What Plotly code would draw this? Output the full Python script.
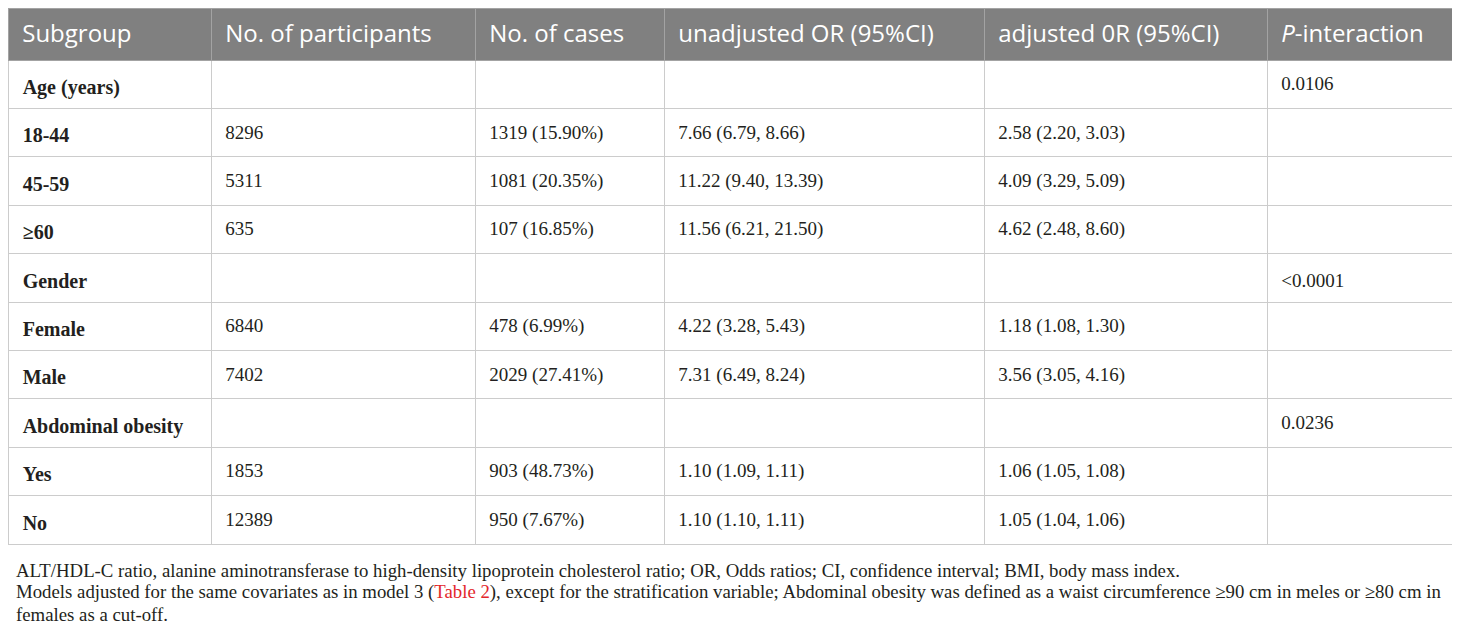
import plotly.graph_objects as go

subgroups = ["Age (years)", "18-44", "45-59", "≥60", "Gender", "Female", "Male",
             "Abdominal obesity", "Yes", "No"]
participants = ["", "8296", "5311", "635", "", "6840", "7402", "", "1853", "12389"]
cases = ["", "1319 (15.90%)", "1081 (20.35%)", "107 (16.85%)", "", "478 (6.99%)",
         "2029 (27.41%)", "", "903 (48.73%)", "950 (7.67%)"]
unadjusted_or = ["", "7.66 (6.79, 8.66)", "11.22 (9.40, 13.39)", "11.56 (6.21, 21.50)", "",
                 "4.22 (3.28, 5.43)", "7.31 (6.49, 8.24)", "", "1.10 (1.09, 1.11)",
                 "1.10 (1.10, 1.11)"]
adjusted_or = ["", "2.58 (2.20, 3.03)", "4.09 (3.29, 5.09)", "4.62 (2.48, 8.60)", "",
               "1.18 (1.08, 1.30)", "3.56 (3.05, 4.16)", "", "1.06 (1.05, 1.08)",
               "1.05 (1.04, 1.06)"]
p_interaction = ["0.0106", "", "", "", "<0.0001", "", "", "0.0236", "", ""]

headers = ["Subgroup", "No. of participants", "No. of cases", "unadjusted OR (95%CI)",
           "adjusted 0R (95%CI)", "<i>P</i>-interaction"]

notes = [
    "ALT/HDL-C ratio, alanine aminotransferase to high-density lipoprotein cholesterol ratio; "
    "OR, Odds ratios; CI, confidence interval; BMI, body mass index.",
    "Models adjusted for the same covariates as in model 3 (<span style='color:#e3262b'>Table 2</span>), "
    "except for the stratification variable; Abdominal obesity was defined as a waist circumference "
    "≥90 cm in meles or ≥80 cm in",
    "females as a cut-off.",
]

W, H = 1460, 625
col_widths = [203, 264, 189, 320, 283, 186]
header_h = 52
row_h = 48.4
table_h = header_h + row_h * len(subgroups) + 1
body_shift = 8  # push body text down so it sits in the middle of each row
pad = "\u00a0\u200a"


def padded(values, bold=False):
    out = []
    for v in values:
        if v == "":
            out.append("")
        elif bold:
            out.append(pad + "<b>" + v + "</b>")
        else:
            out.append(pad + v)
    return out


columns = [padded(subgroups, bold=True), padded(participants), padded(cases),
           padded(unadjusted_or), padded(adjusted_or), padded(p_interaction)]
blank = [[""] * len(subgroups) for _ in columns]

fig = go.Figure()

# grid, fills and header text
fig.add_trace(go.Table(
    domain=dict(x=[0, sum(col_widths) / W], y=[1 - table_h / H, 1]),
    columnwidth=col_widths,
    header=dict(
        values=["<span>\u00a0" + h + "</span>" for h in headers],
        fill_color="#808080",
        line=dict(color="#a3a3a3", width=1),
        font=dict(family="Open Sans", size=24, color="white"),
        align="left",
        height=header_h,
    ),
    cells=dict(
        values=blank,
        fill_color="white",
        line=dict(color="#cccccc", width=1),
        align="left",
        height=row_h,
    ),
))

# body text layer
fig.add_trace(go.Table(
    domain=dict(x=[0, sum(col_widths) / W],
                y=[1 - (table_h + body_shift) / H, 1 - body_shift / H]),
    columnwidth=col_widths,
    header=dict(
        values=[""] * len(headers),
        fill_color="rgba(0,0,0,0)",
        line=dict(color="rgba(0,0,0,0)", width=0),
        height=header_h,
    ),
    cells=dict(
        values=columns,
        fill_color="rgba(0,0,0,0)",
        line=dict(color="rgba(0,0,0,0)", width=0),
        font=dict(family="Liberation Serif", size=[20, 19, 19, 19, 19, 19], color="#231f20"),
        align="left",
        height=row_h,
    ),
))

for i, note in enumerate(notes):
    fig.add_annotation(
        text=note, xref="paper", yref="paper",
        x=7 / W, y=1 - (562 + 22 * i) / H,
        xanchor="left", yanchor="middle", showarrow=False,
        borderpad=0,
        font=dict(family="Liberation Serif", size=18.8, color="#231f20"),
    )

fig.update_layout(
    width=W, height=H,
    margin=dict(l=0, r=0, t=0, b=0),
    paper_bgcolor="white",
    plot_bgcolor="white",
)

fig.write_html("out.html")
